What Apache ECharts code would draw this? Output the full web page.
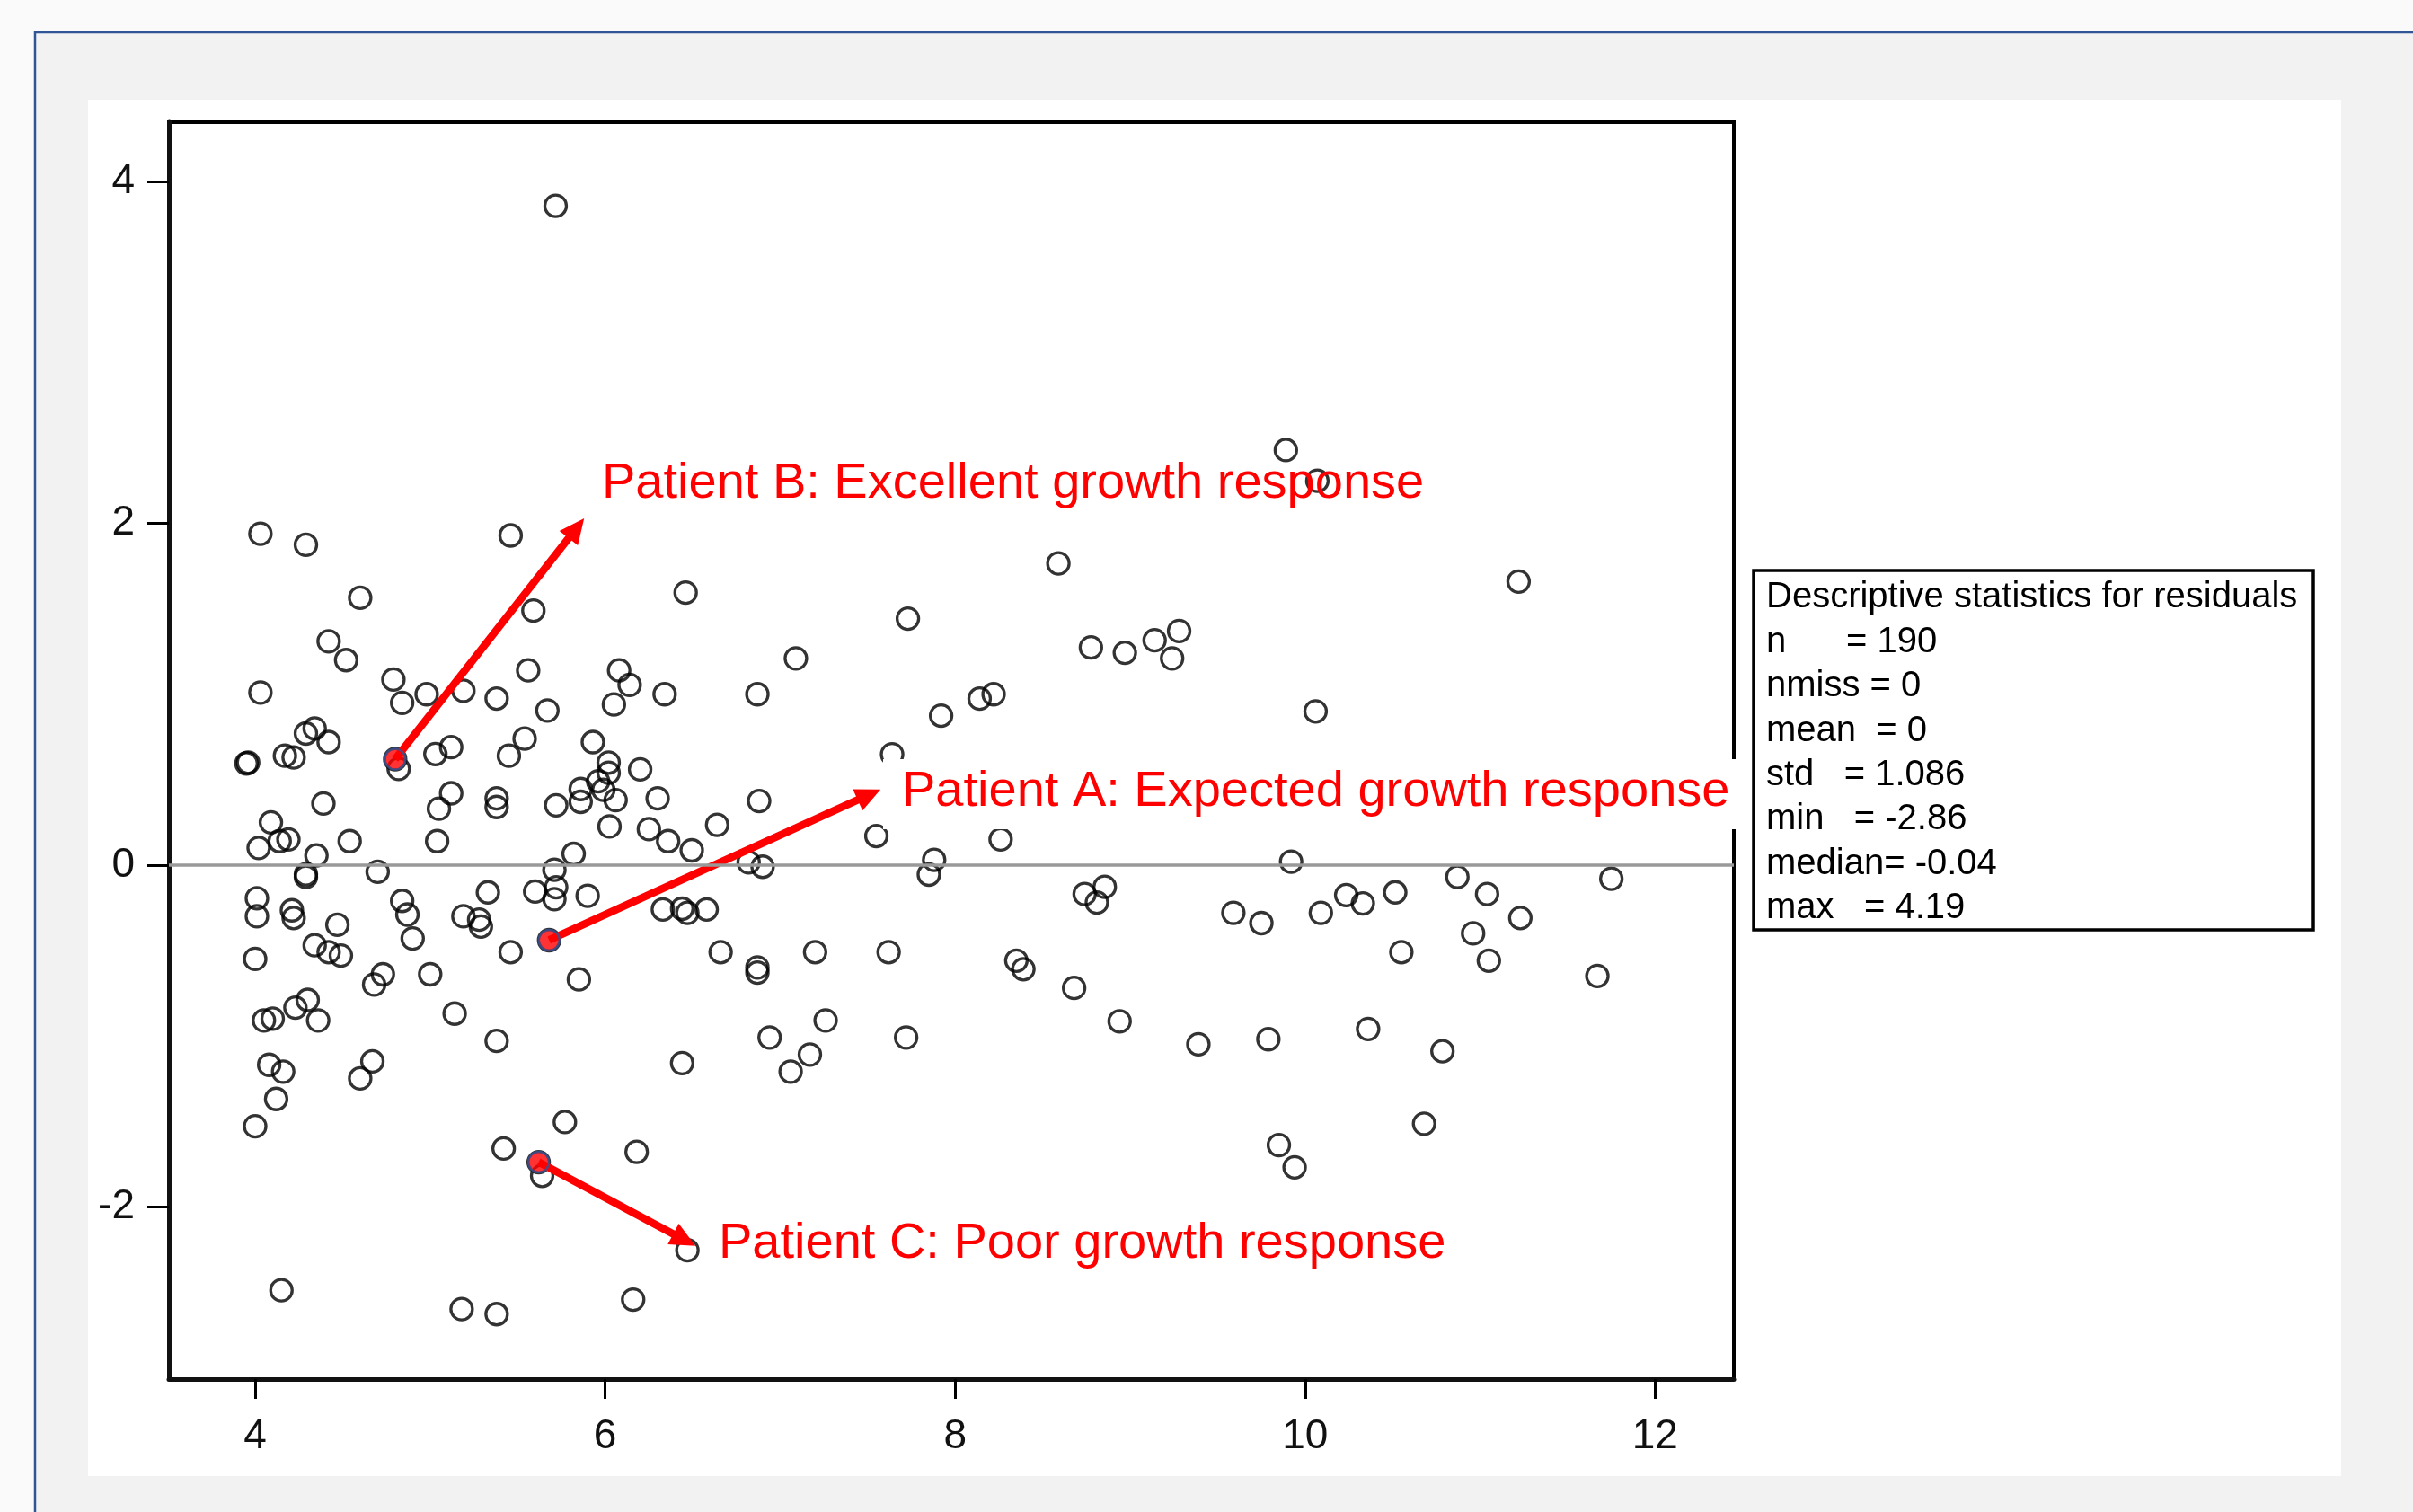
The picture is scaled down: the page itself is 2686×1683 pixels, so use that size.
<!DOCTYPE html>
<html><head><meta charset="utf-8">
<script src="https://cdn.jsdelivr.net/npm/echarts@6/dist/echarts.min.js"></script>
<style>html,body{margin:0;padding:0;background:#fafafa;overflow:hidden}#c{width:2686px;height:1683px}</style>
</head><body><div id="c"></div>
<script>
// ---- data ----
const predicted = [
 4.03,4.29,4.60,4.42,4.52,4.03,4.79,4.84,4.98,5.19,5.38,5.46,4.29,4.34,4.42,4.17,4.22,3.95,3.96,4.82,
 5.03,5.12,5.45,4.39,5.12,5.05,5.38,5.38,4.09,4.02,4.14,4.19,4.35,4.54,5.04,4.29,4.29,4.70,
 4.01,4.01,4.21,4.22,4.47,4.34,4.42,4.49,4.00,4.84,4.87,4.90,5.33,5.19,5.28,5.29,5.46,4.73,4.68,5.00,
 4.05,4.10,4.23,4.30,4.36,5.14,5.38,4.08,4.16,4.12,4.00,4.67,4.60,5.42,4.15,5.18,5.38,
 6.46,5.59,5.56,6.08,6.14,6.05,6.34,6.87,5.67,5.54,5.93,6.02,6.02,5.96,5.99,6.06,5.86,5.86,5.72,6.20,
 6.30,6.88,6.025,6.25,6.36,6.495,6.64,5.82,5.71,6.82,6.90,
 5.60,5.72,5.71,5.90,6.33,6.44,6.47,6.58,5.85,6.66,6.87,6.87,6.44,6.94,5.77,6.18,5.64,6.47,6.16,
 8.59,7.73,7.09,8.776,8.97,7.92,8.14,8.22,7.64,7.55,8.26,7.88,7.85,8.74,8.855,8.81,7.20,7.62,8.35,8.39,
 8.68,8.94,7.26,7.72,7.17,7.06,
 9.89,10.07,11.22,9.14,9.28,9.24,10.06,9.92,11.75,10.87,9.59,9.75,10.09,10.235,10.33,10.515,11.04,11.23,
 10.96,10.55,11.05,11.67,9.39,9.79,10.36,10.785,10.68,9.85,9.94,
 5.717,4.80,5.68,5.62
];
const residuals = [
 1.94,1.875,1.565,1.31,1.20,1.01,1.086,0.95,1.00,1.02,0.975,1.93,0.77,0.80,0.72,0.64,0.63,0.595,0.60,0.563,
 0.65,0.69,0.64,0.36,0.42,0.33,0.39,0.34,0.25,0.10,0.14,0.15,0.056,0.14,0.14,-0.054,-0.07,-0.04,
 -0.195,-0.30,-0.265,-0.31,-0.35,-0.47,-0.51,-0.53,-0.55,-0.21,-0.29,-0.43,-0.16,-0.30,-0.32,-0.36,-0.51,-0.64,-0.70,-0.64,
 -0.91,-0.90,-0.835,-0.79,-0.91,-0.87,-1.03,-1.17,-1.21,-1.37,-1.53,-1.15,-1.25,-1.66,-2.49,-2.60,-2.63,
 1.595,1.49,1.14,1.14,1.055,0.94,1.00,1.00,0.905,0.74,0.72,0.60,0.54,0.49,0.44,0.38,0.445,0.37,0.35,0.56,
 0.39,0.375,0.226,0.21,0.14,0.086,0.235,0.065,-0.028,0.016,-0.01,
 -0.155,-0.13,-0.20,-0.18,-0.26,-0.256,-0.28,-0.26,-0.67,-0.51,-0.60,-0.63,-1.16,-1.01,-1.505,-1.68,-1.82,-2.256,-2.545,
 1.766,1.443,1.21,1.274,1.243,0.875,0.974,1.00,0.648,0.17,0.15,0.03,-0.056,-0.17,-0.128,-0.22,-0.51,-0.51,-0.56,-0.61,
 -0.72,-0.915,-0.91,-1.01,-1.11,-1.21,
 2.43,2.25,1.66,1.316,1.37,1.21,0.90,0.02,-0.08,-0.07,-0.28,-0.34,-0.28,-0.176,-0.225,-0.16,-0.17,-0.31,
 -0.40,-0.51,-0.56,-0.65,-1.05,-1.02,-0.96,-1.09,-1.515,-1.64,-1.77,
 3.86,0.62,-0.44,-1.74
];
const patientNames = ['Patient B: Excellent growth response','Patient A: Expected growth response','Patient C: Poor growth response'];
const patientPredicted = [4.80, 5.68, 5.62];
const patientResiduals = [0.62, -0.44, -1.74];
const xTickValues = [4, 6, 8, 10, 12];
const yTickValues = [-2, 0, 2, 4];
const statsTitle = 'Descriptive statistics for residuals';
const statsLines = ['n      = 190', 'nmiss = 0', 'mean  = 0', 'std   = 1.086', 'min   = -2.86', 'median= -0.04', 'max   = 4.19'];

// ---- annotation layout (data coordinates of arrow tips, pixel positions of labels) ----
const arrowTips = [[5.88, 2.03], [7.574, 0.442], [6.516, -2.23]];
const labelPos = [[670, 539], [1004, 882], [800, 1385]];

const FONT = '"Liberation Sans", Arial, Helvetica, sans-serif';
const chart = echarts.init(document.getElementById('c'), null, {renderer: 'canvas'});

const arrowData = patientPredicted.map((x, i) => [x, patientResiduals[i], arrowTips[i][0], arrowTips[i][1]]);

const graphics = [
  {type: 'rect', z: -20, shape: {x: 39, y: 36, width: 2700, height: 1700}, style: {fill: '#f2f2f2', stroke: '#2f5597', lineWidth: 2.5}},
  {type: 'rect', z: -19, shape: {x: 98, y: 111, width: 2508, height: 1532}, style: {fill: '#ffffff'}},
  {type: 'rect', z: 50, shape: {x: 1952, y: 635, width: 623, height: 400}, style: {fill: '#ffffff', stroke: '#000', lineWidth: 3.5}},
  {type: 'text', z: 51, x: 1966, y: 665, style: {text: statsTitle, font: '40px ' + FONT, fill: '#000', verticalAlign: 'middle'}}
];
statsLines.forEach((t, i) => {
  graphics.push({type: 'text', z: 51, x: 1966, y: 715 + i * 49.3, style: {text: t, font: '40px ' + FONT, fill: '#000', verticalAlign: 'middle'}});
});
graphics.push({type: 'rect', z: 60, shape: {x: 983, y: 845, width: 955, height: 78}, style: {fill: '#ffffff'}});
patientNames.forEach((t, i) => {
  graphics.push({type: 'text', z: 61, x: labelPos[i][0], y: labelPos[i][1], style: {text: t, font: '56px ' + FONT, fill: '#ff0000', verticalAlign: 'middle'}});
});

chart.setOption({
  animation: false,
  backgroundColor: '#fafafa',
  grid: {left: 188, top: 136, width: 1742, height: 1399, show: true, backgroundColor: 'transparent', borderColor: '#000', borderWidth: 4},
  xAxis: {
    type: 'value', min: 3.507, max: 12.45, splitLine: {show: false},
    axisLine: {show: true, onZero: false, lineStyle: {color: '#111', width: 5}},
    axisTick: {show: true, length: 22, customValues: xTickValues, lineStyle: {color: '#000', width: 3}},
    axisLabel: {customValues: xTickValues, margin: 41, fontSize: 46, color: '#111', fontFamily: FONT}
  },
  yAxis: {
    type: 'value', min: -3.01, max: 4.35, splitLine: {show: false},
    axisLine: {show: true, onZero: false, lineStyle: {color: '#111', width: 5}},
    axisTick: {show: true, length: 24, customValues: yTickValues, lineStyle: {color: '#000', width: 3}},
    axisLabel: {customValues: yTickValues, margin: 38, fontSize: 46, color: '#111', fontFamily: FONT}
  },
  graphic: graphics,
  series: [
    {
      type: 'scatter', z: 2,
      data: predicted.map((x, i) => [x, residuals[i]]),
      symbol: 'circle', symbolSize: 24,
      itemStyle: {color: 'rgba(0,0,0,0)', borderColor: '#000', borderWidth: 3.3},
      markLine: {silent: true, symbol: ['none', 'none'], label: {show: false},
        lineStyle: {color: '#999999', width: 3.5, type: 'solid'}, data: [{yAxis: 0}]}
    },
    {
      type: 'custom', z: 3, clip: false,
      data: arrowData,
      renderItem: function (params, api) {
        const p0 = api.coord([api.value(0), api.value(1)]);
        const p1 = api.coord([api.value(2), api.value(3)]);
        const dx = p1[0] - p0[0], dy = p1[1] - p0[1];
        const L = Math.hypot(dx, dy), ux = dx / L, uy = dy / L;
        const hl = 28, hw = 26;
        const bx = p1[0] - ux * hl, by = p1[1] - uy * hl;
        const nx = -uy, ny = ux;
        return {type: 'group', children: [
          {type: 'line', shape: {x1: p0[0], y1: p0[1], x2: bx + ux * 3, y2: by + uy * 3}, style: {stroke: '#ff0000', lineWidth: 8.5}},
          {type: 'polygon', shape: {points: [[p1[0], p1[1]], [bx + nx * hw / 2, by + ny * hw / 2], [bx - nx * hw / 2, by - ny * hw / 2]]}, style: {fill: '#ff0000'}}
        ]};
      }
    },
    {
      type: 'scatter', z: 4,
      data: patientPredicted.map((x, i) => [x, patientResiduals[i]]),
      symbol: 'circle', symbolSize: 23,
      itemStyle: {color: '#ff0000', borderColor: '#2f5597', borderWidth: 2.5}
    }
  ]
});
</script></body></html>
